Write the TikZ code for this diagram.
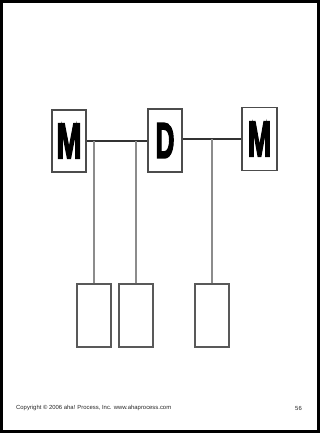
\documentclass[tikz,border=0pt]{standalone}
\usepackage{fontspec}
\setmainfont{Liberation Sans}
\newfontfamily\heavyfont[FakeBold=4]{Liberation Sans Bold}
\usepackage{graphicx}
\usepackage{tikz}
\usetikzlibrary{positioning}
\newcommand{\bigletter}[2]{\scalebox{#1}[1]{\heavyfont\fontsize{50}{50}\selectfont #2}}
\tikzset{
  unit/.style={draw=black!70,line width=1.1pt,fill=white,inner sep=0pt,
    minimum width=34pt,minimum height=62pt},
  slot/.style={draw=black!65,line width=1.1pt,fill=white,inner sep=0pt,
    minimum width=34pt,minimum height=63pt},
  bus/.style={draw=black!80,line width=1.2pt},
  drop/.style={draw=black!45,line width=1.3pt},
  footer/.style={font=\fontsize{5.9}{6.5}\selectfont,text=black!85,inner sep=0pt}
}

\begin{document}
\begin{tikzpicture}[x=1pt,y=-1pt]
  \useasboundingbox (0,0) rectangle (320,433);
  \draw[line width=2.5pt] (1.5,1.5) rectangle (318.5,431.5);

  % masters and the distributor
  \node[unit] (mleft) at (69,141) {\bigletter{0.6}{M}};
  \node[unit, minimum height=63pt] (dmid) at (165,140.5) {\bigletter{0.52}{D}};
  \node[unit, minimum width=35pt, minimum height=63pt] (mright) at (259.5,139) {\bigletter{0.56}{M}};

  % hanging units
  \node[slot] (slotA) at (94,315.5) {};
  \node[slot] (slotB) at (136,315.5) {};
  \node[slot] (slotC) at (212,315.5) {};

  \draw[bus] (mleft.east) -- (mleft.east -| dmid.west);
  \draw[bus] (dmid.east |- mright.west) -- (mright.west);
  \draw[drop] (slotA.north) -- (slotA.north |- mleft.east);
  \draw[drop] (slotB.north) -- (slotB.north |- mleft.east);
  \draw[drop] (slotC.north) -- (slotC.north |- mright.west);

  \node[footer, anchor=west] (copy) at (16,408) {Copyright © 2006 aha! Process, Inc. www.ahaprocess.com};
  \node[footer, anchor=east] (page) at (302,408) {56};
\end{tikzpicture}
\end{document}
